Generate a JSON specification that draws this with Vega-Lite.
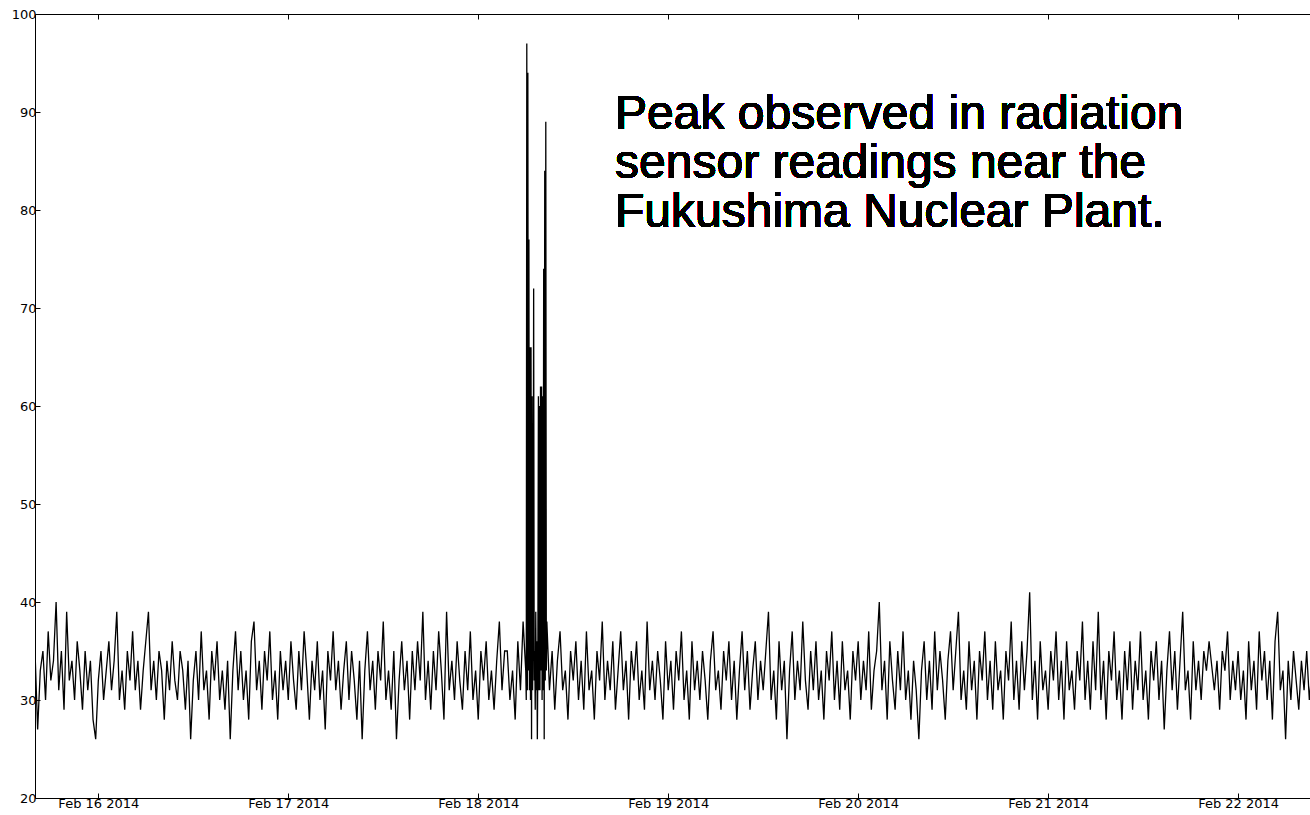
{
"$schema": "https://vega.github.io/schema/vega-lite/v6.json",
"width": 1275, "height": 784,
"autosize": {"type": "none"},
"padding": {"left": 35, "top": 14, "right": 0, "bottom": 17},
"background": "white",
"config": {"view": {"stroke": "black", "strokeWidth": 1}, "font": "DejaVu Sans",
 "axis": {"domain": false, "grid": false, "tickColor": "black", "tickSize": -5, "labelColor": "black", "labelFontSize": 13, "labelFont": "DejaVu Sans", "labelPadding": 4}},
"data": {"values": [
{"t":"2014-02-15T16:00","v":35},{"t":"2014-02-15T16:20","v":27},{"t":"2014-02-15T16:40","v":33},{"t":"2014-02-15T17:00","v":35},{"t":"2014-02-15T17:20","v":30},{"t":"2014-02-15T17:40","v":37},{"t":"2014-02-15T18:00","v":32},{"t":"2014-02-15T18:20","v":34},{"t":"2014-02-15T18:40","v":40},{"t":"2014-02-15T19:00","v":31},{"t":"2014-02-15T19:20","v":35},{"t":"2014-02-15T19:40","v":29},{"t":"2014-02-15T20:00","v":39},{"t":"2014-02-15T20:20","v":32},{"t":"2014-02-15T20:40","v":34},{"t":"2014-02-15T21:00","v":30},{"t":"2014-02-15T21:20","v":36},{"t":"2014-02-15T21:40","v":33},{"t":"2014-02-15T22:00","v":29},{"t":"2014-02-15T22:20","v":35},{"t":"2014-02-15T22:40","v":31},{"t":"2014-02-15T23:00","v":34},{"t":"2014-02-15T23:20","v":28},{"t":"2014-02-15T23:40","v":26},
{"t":"2014-02-16T00:00","v":32},{"t":"2014-02-16T00:20","v":35},{"t":"2014-02-16T00:40","v":30},{"t":"2014-02-16T01:00","v":33},{"t":"2014-02-16T01:20","v":36},{"t":"2014-02-16T01:40","v":31},{"t":"2014-02-16T02:00","v":34},{"t":"2014-02-16T02:20","v":39},{"t":"2014-02-16T02:40","v":30},{"t":"2014-02-16T03:00","v":33},{"t":"2014-02-16T03:20","v":29},{"t":"2014-02-16T03:40","v":35},
{"t":"2014-02-16T04:00","v":32},{"t":"2014-02-16T04:20","v":37},{"t":"2014-02-16T04:40","v":31},{"t":"2014-02-16T05:00","v":34},{"t":"2014-02-16T05:20","v":29},{"t":"2014-02-16T05:40","v":33},{"t":"2014-02-16T06:00","v":36},{"t":"2014-02-16T06:20","v":39},{"t":"2014-02-16T06:40","v":31},{"t":"2014-02-16T07:00","v":34},{"t":"2014-02-16T07:20","v":30},{"t":"2014-02-16T07:40","v":35},
{"t":"2014-02-16T08:00","v":33},{"t":"2014-02-16T08:20","v":28},{"t":"2014-02-16T08:40","v":34},{"t":"2014-02-16T09:00","v":31},{"t":"2014-02-16T09:20","v":36},{"t":"2014-02-16T09:40","v":32},{"t":"2014-02-16T10:00","v":30},{"t":"2014-02-16T10:20","v":35},{"t":"2014-02-16T10:40","v":33},{"t":"2014-02-16T11:00","v":29},{"t":"2014-02-16T11:20","v":34},{"t":"2014-02-16T11:40","v":26},
{"t":"2014-02-16T12:00","v":32},{"t":"2014-02-16T12:20","v":35},{"t":"2014-02-16T12:40","v":30},{"t":"2014-02-16T13:00","v":37},{"t":"2014-02-16T13:20","v":31},{"t":"2014-02-16T13:40","v":33},{"t":"2014-02-16T14:00","v":28},{"t":"2014-02-16T14:20","v":35},{"t":"2014-02-16T14:40","v":32},{"t":"2014-02-16T15:00","v":36},{"t":"2014-02-16T15:20","v":30},{"t":"2014-02-16T15:40","v":33},
{"t":"2014-02-16T16:00","v":29},{"t":"2014-02-16T16:20","v":34},{"t":"2014-02-16T16:40","v":26},{"t":"2014-02-16T17:00","v":33},{"t":"2014-02-16T17:20","v":37},{"t":"2014-02-16T17:40","v":31},{"t":"2014-02-16T18:00","v":35},{"t":"2014-02-16T18:20","v":30},{"t":"2014-02-16T18:40","v":33},{"t":"2014-02-16T19:00","v":28},{"t":"2014-02-16T19:20","v":36},{"t":"2014-02-16T19:40","v":38},
{"t":"2014-02-16T20:00","v":31},{"t":"2014-02-16T20:20","v":34},{"t":"2014-02-16T20:40","v":29},{"t":"2014-02-16T21:00","v":35},{"t":"2014-02-16T21:20","v":32},{"t":"2014-02-16T21:40","v":37},{"t":"2014-02-16T22:00","v":30},{"t":"2014-02-16T22:20","v":33},{"t":"2014-02-16T22:40","v":28},{"t":"2014-02-16T23:00","v":35},{"t":"2014-02-16T23:20","v":31},{"t":"2014-02-16T23:40","v":34},
{"t":"2014-02-17T00:00","v":30},{"t":"2014-02-17T00:20","v":36},{"t":"2014-02-17T00:40","v":32},{"t":"2014-02-17T01:00","v":29},{"t":"2014-02-17T01:20","v":35},{"t":"2014-02-17T01:40","v":31},{"t":"2014-02-17T02:00","v":37},{"t":"2014-02-17T02:20","v":33},{"t":"2014-02-17T02:40","v":28},{"t":"2014-02-17T03:00","v":34},{"t":"2014-02-17T03:20","v":31},{"t":"2014-02-17T03:40","v":36},
{"t":"2014-02-17T04:00","v":30},{"t":"2014-02-17T04:20","v":33},{"t":"2014-02-17T04:40","v":27},{"t":"2014-02-17T05:00","v":35},{"t":"2014-02-17T05:20","v":32},{"t":"2014-02-17T05:40","v":37},{"t":"2014-02-17T06:00","v":31},{"t":"2014-02-17T06:20","v":34},{"t":"2014-02-17T06:40","v":29},{"t":"2014-02-17T07:00","v":33},{"t":"2014-02-17T07:20","v":36},{"t":"2014-02-17T07:40","v":30},
{"t":"2014-02-17T08:00","v":35},{"t":"2014-02-17T08:20","v":32},{"t":"2014-02-17T08:40","v":28},{"t":"2014-02-17T09:00","v":34},{"t":"2014-02-17T09:20","v":26},{"t":"2014-02-17T09:40","v":33},{"t":"2014-02-17T10:00","v":37},{"t":"2014-02-17T10:20","v":31},{"t":"2014-02-17T10:40","v":34},{"t":"2014-02-17T11:00","v":29},{"t":"2014-02-17T11:20","v":35},{"t":"2014-02-17T11:40","v":32},
{"t":"2014-02-17T12:00","v":38},{"t":"2014-02-17T12:20","v":30},{"t":"2014-02-17T12:40","v":33},{"t":"2014-02-17T13:00","v":29},{"t":"2014-02-17T13:20","v":35},{"t":"2014-02-17T13:40","v":26},{"t":"2014-02-17T14:00","v":32},{"t":"2014-02-17T14:20","v":36},{"t":"2014-02-17T14:40","v":31},{"t":"2014-02-17T15:00","v":34},{"t":"2014-02-17T15:20","v":28},{"t":"2014-02-17T15:40","v":35},
{"t":"2014-02-17T16:00","v":31},{"t":"2014-02-17T16:20","v":36},{"t":"2014-02-17T16:40","v":32},{"t":"2014-02-17T17:00","v":39},{"t":"2014-02-17T17:20","v":30},{"t":"2014-02-17T17:40","v":34},{"t":"2014-02-17T18:00","v":29},{"t":"2014-02-17T18:20","v":35},{"t":"2014-02-17T18:40","v":31},{"t":"2014-02-17T19:00","v":37},{"t":"2014-02-17T19:20","v":33},{"t":"2014-02-17T19:40","v":28},
{"t":"2014-02-17T20:00","v":39},{"t":"2014-02-17T20:20","v":31},{"t":"2014-02-17T20:40","v":34},{"t":"2014-02-17T21:00","v":30},{"t":"2014-02-17T21:20","v":36},{"t":"2014-02-17T21:40","v":32},{"t":"2014-02-17T22:00","v":29},{"t":"2014-02-17T22:20","v":35},{"t":"2014-02-17T22:40","v":31},{"t":"2014-02-17T23:00","v":37},{"t":"2014-02-17T23:20","v":30},{"t":"2014-02-17T23:40","v":33},
{"t":"2014-02-18T00:00","v":28},{"t":"2014-02-18T00:20","v":35},{"t":"2014-02-18T00:40","v":32},{"t":"2014-02-18T01:00","v":36},{"t":"2014-02-18T01:20","v":30},{"t":"2014-02-18T01:40","v":33},{"t":"2014-02-18T02:00","v":29},{"t":"2014-02-18T02:20","v":34},{"t":"2014-02-18T02:40","v":38},{"t":"2014-02-18T03:00","v":31},{"t":"2014-02-18T03:20","v":35},{"t":"2014-02-18T03:40","v":35},
{"t":"2014-02-18T04:00","v":30},{"t":"2014-02-18T04:20","v":33},{"t":"2014-02-18T04:40","v":28},{"t":"2014-02-18T05:00","v":36},{"t":"2014-02-18T05:20","v":31},{"t":"2014-02-18T05:40","v":38},{"t":"2014-02-18T06:00","v":33},
{"t":"2014-02-18T06:04","v":30},{"t":"2014-02-18T06:08","v":97},{"t":"2014-02-18T06:12","v":31},{"t":"2014-02-18T06:16","v":94},{"t":"2014-02-18T06:20","v":33},{"t":"2014-02-18T06:24","v":77},{"t":"2014-02-18T06:28","v":31},{"t":"2014-02-18T06:32","v":66},{"t":"2014-02-18T06:36","v":30},{"t":"2014-02-18T06:40","v":66},{"t":"2014-02-18T06:44","v":26},{"t":"2014-02-18T06:48","v":61},{"t":"2014-02-18T06:52","v":31},
{"t":"2014-02-18T06:56","v":38},{"t":"2014-02-18T07:00","v":72},{"t":"2014-02-18T07:04","v":32},{"t":"2014-02-18T07:08","v":35},{"t":"2014-02-18T07:12","v":29},{"t":"2014-02-18T07:16","v":39},{"t":"2014-02-18T07:20","v":31},{"t":"2014-02-18T07:24","v":36},{"t":"2014-02-18T07:28","v":26},{"t":"2014-02-18T07:32","v":34},{"t":"2014-02-18T07:36","v":61},{"t":"2014-02-18T07:40","v":31},{"t":"2014-02-18T07:44","v":60},{"t":"2014-02-18T07:48","v":31},
{"t":"2014-02-18T07:52","v":62},{"t":"2014-02-18T07:56","v":33},{"t":"2014-02-18T08:00","v":62},{"t":"2014-02-18T08:04","v":30},{"t":"2014-02-18T08:08","v":61},{"t":"2014-02-18T08:12","v":31},{"t":"2014-02-18T08:16","v":74},{"t":"2014-02-18T08:20","v":26},{"t":"2014-02-18T08:24","v":84},{"t":"2014-02-18T08:28","v":32},{"t":"2014-02-18T08:32","v":89},{"t":"2014-02-18T08:36","v":33},{"t":"2014-02-18T08:40","v":38},
{"t":"2014-02-18T09:00","v":31},{"t":"2014-02-18T09:20","v":35},{"t":"2014-02-18T09:40","v":29},{"t":"2014-02-18T10:00","v":34},{"t":"2014-02-18T10:20","v":37},{"t":"2014-02-18T10:40","v":31},{"t":"2014-02-18T11:00","v":33},{"t":"2014-02-18T11:20","v":28},{"t":"2014-02-18T11:40","v":35},
{"t":"2014-02-18T12:00","v":32},{"t":"2014-02-18T12:20","v":36},{"t":"2014-02-18T12:40","v":30},{"t":"2014-02-18T13:00","v":34},{"t":"2014-02-18T13:20","v":29},{"t":"2014-02-18T13:40","v":37},{"t":"2014-02-18T14:00","v":31},{"t":"2014-02-18T14:20","v":33},{"t":"2014-02-18T14:40","v":28},{"t":"2014-02-18T15:00","v":35},{"t":"2014-02-18T15:20","v":32},{"t":"2014-02-18T15:40","v":38},
{"t":"2014-02-18T16:00","v":30},{"t":"2014-02-18T16:20","v":34},{"t":"2014-02-18T16:40","v":31},{"t":"2014-02-18T17:00","v":36},{"t":"2014-02-18T17:20","v":29},{"t":"2014-02-18T17:40","v":33},{"t":"2014-02-18T18:00","v":37},{"t":"2014-02-18T18:20","v":31},{"t":"2014-02-18T18:40","v":34},{"t":"2014-02-18T19:00","v":28},{"t":"2014-02-18T19:20","v":35},{"t":"2014-02-18T19:40","v":32},
{"t":"2014-02-18T20:00","v":36},{"t":"2014-02-18T20:20","v":30},{"t":"2014-02-18T20:40","v":33},{"t":"2014-02-18T21:00","v":29},{"t":"2014-02-18T21:20","v":38},{"t":"2014-02-18T21:40","v":31},{"t":"2014-02-18T22:00","v":34},{"t":"2014-02-18T22:20","v":30},{"t":"2014-02-18T22:40","v":35},{"t":"2014-02-18T23:00","v":32},{"t":"2014-02-18T23:20","v":28},{"t":"2014-02-18T23:40","v":36},
{"t":"2014-02-19T00:00","v":31},{"t":"2014-02-19T00:20","v":34},{"t":"2014-02-19T00:40","v":29},{"t":"2014-02-19T01:00","v":35},{"t":"2014-02-19T01:20","v":32},{"t":"2014-02-19T01:40","v":37},{"t":"2014-02-19T02:00","v":30},{"t":"2014-02-19T02:20","v":33},{"t":"2014-02-19T02:40","v":28},{"t":"2014-02-19T03:00","v":36},{"t":"2014-02-19T03:20","v":31},{"t":"2014-02-19T03:40","v":34},
{"t":"2014-02-19T04:00","v":30},{"t":"2014-02-19T04:20","v":35},{"t":"2014-02-19T04:40","v":32},{"t":"2014-02-19T05:00","v":28},{"t":"2014-02-19T05:20","v":34},{"t":"2014-02-19T05:40","v":37},{"t":"2014-02-19T06:00","v":31},{"t":"2014-02-19T06:20","v":33},{"t":"2014-02-19T06:40","v":29},{"t":"2014-02-19T07:00","v":35},{"t":"2014-02-19T07:20","v":32},{"t":"2014-02-19T07:40","v":36},
{"t":"2014-02-19T08:00","v":30},{"t":"2014-02-19T08:20","v":34},{"t":"2014-02-19T08:40","v":28},{"t":"2014-02-19T09:00","v":33},{"t":"2014-02-19T09:20","v":37},{"t":"2014-02-19T09:40","v":31},{"t":"2014-02-19T10:00","v":35},{"t":"2014-02-19T10:20","v":29},{"t":"2014-02-19T10:40","v":33},{"t":"2014-02-19T11:00","v":36},{"t":"2014-02-19T11:20","v":30},{"t":"2014-02-19T11:40","v":34},
{"t":"2014-02-19T12:00","v":31},{"t":"2014-02-19T12:20","v":35},{"t":"2014-02-19T12:40","v":39},{"t":"2014-02-19T13:00","v":30},{"t":"2014-02-19T13:20","v":33},{"t":"2014-02-19T13:40","v":28},{"t":"2014-02-19T14:00","v":36},{"t":"2014-02-19T14:20","v":31},{"t":"2014-02-19T14:40","v":34},{"t":"2014-02-19T15:00","v":26},{"t":"2014-02-19T15:20","v":33},{"t":"2014-02-19T15:40","v":37},
{"t":"2014-02-19T16:00","v":30},{"t":"2014-02-19T16:20","v":34},{"t":"2014-02-19T16:40","v":31},{"t":"2014-02-19T17:00","v":38},{"t":"2014-02-19T17:20","v":32},{"t":"2014-02-19T17:40","v":29},{"t":"2014-02-19T18:00","v":35},{"t":"2014-02-19T18:20","v":31},{"t":"2014-02-19T18:40","v":36},{"t":"2014-02-19T19:00","v":30},{"t":"2014-02-19T19:20","v":33},{"t":"2014-02-19T19:40","v":28},
{"t":"2014-02-19T20:00","v":35},{"t":"2014-02-19T20:20","v":32},{"t":"2014-02-19T20:40","v":37},{"t":"2014-02-19T21:00","v":30},{"t":"2014-02-19T21:20","v":34},{"t":"2014-02-19T21:40","v":29},{"t":"2014-02-19T22:00","v":36},{"t":"2014-02-19T22:20","v":31},{"t":"2014-02-19T22:40","v":33},{"t":"2014-02-19T23:00","v":28},{"t":"2014-02-19T23:20","v":35},{"t":"2014-02-19T23:40","v":32},
{"t":"2014-02-20T00:00","v":36},{"t":"2014-02-20T00:20","v":30},{"t":"2014-02-20T00:40","v":34},{"t":"2014-02-20T01:00","v":31},{"t":"2014-02-20T01:20","v":37},{"t":"2014-02-20T01:40","v":29},{"t":"2014-02-20T02:00","v":33},{"t":"2014-02-20T02:20","v":35},{"t":"2014-02-20T02:40","v":40},{"t":"2014-02-20T03:00","v":31},{"t":"2014-02-20T03:20","v":34},{"t":"2014-02-20T03:40","v":28},
{"t":"2014-02-20T04:00","v":36},{"t":"2014-02-20T04:20","v":32},{"t":"2014-02-20T04:40","v":29},{"t":"2014-02-20T05:00","v":35},{"t":"2014-02-20T05:20","v":31},{"t":"2014-02-20T05:40","v":37},{"t":"2014-02-20T06:00","v":30},{"t":"2014-02-20T06:20","v":33},{"t":"2014-02-20T06:40","v":28},{"t":"2014-02-20T07:00","v":34},{"t":"2014-02-20T07:20","v":31},{"t":"2014-02-20T07:40","v":26},
{"t":"2014-02-20T08:00","v":33},{"t":"2014-02-20T08:20","v":36},{"t":"2014-02-20T08:40","v":30},{"t":"2014-02-20T09:00","v":34},{"t":"2014-02-20T09:20","v":29},{"t":"2014-02-20T09:40","v":37},{"t":"2014-02-20T10:00","v":31},{"t":"2014-02-20T10:20","v":35},{"t":"2014-02-20T10:40","v":32},{"t":"2014-02-20T11:00","v":28},{"t":"2014-02-20T11:20","v":34},{"t":"2014-02-20T11:40","v":37},
{"t":"2014-02-20T12:00","v":31},{"t":"2014-02-20T12:20","v":35},{"t":"2014-02-20T12:40","v":39},{"t":"2014-02-20T13:00","v":30},{"t":"2014-02-20T13:20","v":33},{"t":"2014-02-20T13:40","v":29},{"t":"2014-02-20T14:00","v":36},{"t":"2014-02-20T14:20","v":31},{"t":"2014-02-20T14:40","v":34},{"t":"2014-02-20T15:00","v":28},{"t":"2014-02-20T15:20","v":35},{"t":"2014-02-20T15:40","v":32},
{"t":"2014-02-20T16:00","v":37},{"t":"2014-02-20T16:20","v":30},{"t":"2014-02-20T16:40","v":34},{"t":"2014-02-20T17:00","v":29},{"t":"2014-02-20T17:20","v":36},{"t":"2014-02-20T17:40","v":31},{"t":"2014-02-20T18:00","v":33},{"t":"2014-02-20T18:20","v":28},{"t":"2014-02-20T18:40","v":35},{"t":"2014-02-20T19:00","v":32},{"t":"2014-02-20T19:20","v":38},{"t":"2014-02-20T19:40","v":30},
{"t":"2014-02-20T20:00","v":34},{"t":"2014-02-20T20:20","v":29},{"t":"2014-02-20T20:40","v":36},{"t":"2014-02-20T21:00","v":31},{"t":"2014-02-20T21:20","v":35},{"t":"2014-02-20T21:40","v":41},{"t":"2014-02-20T22:00","v":30},{"t":"2014-02-20T22:20","v":34},{"t":"2014-02-20T22:40","v":28},{"t":"2014-02-20T23:00","v":36},{"t":"2014-02-20T23:20","v":31},{"t":"2014-02-20T23:40","v":33},
{"t":"2014-02-21T00:00","v":29},{"t":"2014-02-21T00:20","v":35},{"t":"2014-02-21T00:40","v":32},{"t":"2014-02-21T01:00","v":37},{"t":"2014-02-21T01:20","v":30},{"t":"2014-02-21T01:40","v":34},{"t":"2014-02-21T02:00","v":28},{"t":"2014-02-21T02:20","v":36},{"t":"2014-02-21T02:40","v":31},{"t":"2014-02-21T03:00","v":33},{"t":"2014-02-21T03:20","v":29},{"t":"2014-02-21T03:40","v":35},
{"t":"2014-02-21T04:00","v":32},{"t":"2014-02-21T04:20","v":38},{"t":"2014-02-21T04:40","v":30},{"t":"2014-02-21T05:00","v":34},{"t":"2014-02-21T05:20","v":29},{"t":"2014-02-21T05:40","v":36},{"t":"2014-02-21T06:00","v":31},{"t":"2014-02-21T06:20","v":39},{"t":"2014-02-21T06:40","v":30},{"t":"2014-02-21T07:00","v":34},{"t":"2014-02-21T07:20","v":28},{"t":"2014-02-21T07:40","v":35},
{"t":"2014-02-21T08:00","v":32},{"t":"2014-02-21T08:20","v":37},{"t":"2014-02-21T08:40","v":30},{"t":"2014-02-21T09:00","v":33},{"t":"2014-02-21T09:20","v":28},{"t":"2014-02-21T09:40","v":35},{"t":"2014-02-21T10:00","v":31},{"t":"2014-02-21T10:20","v":36},{"t":"2014-02-21T10:40","v":29},{"t":"2014-02-21T11:00","v":34},{"t":"2014-02-21T11:20","v":31},{"t":"2014-02-21T11:40","v":37},
{"t":"2014-02-21T12:00","v":30},{"t":"2014-02-21T12:20","v":33},{"t":"2014-02-21T12:40","v":28},{"t":"2014-02-21T13:00","v":35},{"t":"2014-02-21T13:20","v":32},{"t":"2014-02-21T13:40","v":36},{"t":"2014-02-21T14:00","v":30},{"t":"2014-02-21T14:20","v":34},{"t":"2014-02-21T14:40","v":27},{"t":"2014-02-21T15:00","v":33},{"t":"2014-02-21T15:20","v":37},{"t":"2014-02-21T15:40","v":31},
{"t":"2014-02-21T16:00","v":35},{"t":"2014-02-21T16:20","v":29},{"t":"2014-02-21T16:40","v":34},{"t":"2014-02-21T17:00","v":39},{"t":"2014-02-21T17:20","v":31},{"t":"2014-02-21T17:40","v":33},{"t":"2014-02-21T18:00","v":28},{"t":"2014-02-21T18:20","v":36},{"t":"2014-02-21T18:40","v":31},{"t":"2014-02-21T19:00","v":34},{"t":"2014-02-21T19:20","v":30},{"t":"2014-02-21T19:40","v":35},
{"t":"2014-02-21T20:00","v":33},{"t":"2014-02-21T20:20","v":36},{"t":"2014-02-21T21:00","v":31},{"t":"2014-02-21T21:20","v":34},{"t":"2014-02-21T21:40","v":29},{"t":"2014-02-21T22:00","v":35},{"t":"2014-02-21T22:20","v":33},{"t":"2014-02-21T22:40","v":37},{"t":"2014-02-21T23:00","v":30},{"t":"2014-02-21T23:20","v":34},{"t":"2014-02-21T23:40","v":31},
{"t":"2014-02-22T00:00","v":35},{"t":"2014-02-22T00:20","v":30},{"t":"2014-02-22T00:40","v":33},{"t":"2014-02-22T01:00","v":28},{"t":"2014-02-22T01:20","v":36},{"t":"2014-02-22T01:40","v":31},{"t":"2014-02-22T02:00","v":34},{"t":"2014-02-22T02:20","v":29},{"t":"2014-02-22T02:40","v":37},{"t":"2014-02-22T03:00","v":32},{"t":"2014-02-22T03:20","v":35},{"t":"2014-02-22T03:40","v":30},
{"t":"2014-02-22T04:00","v":34},{"t":"2014-02-22T04:20","v":28},{"t":"2014-02-22T04:40","v":36},{"t":"2014-02-22T05:00","v":39},{"t":"2014-02-22T05:20","v":31},{"t":"2014-02-22T05:40","v":33},{"t":"2014-02-22T06:00","v":26},{"t":"2014-02-22T06:20","v":34},{"t":"2014-02-22T06:40","v":30},{"t":"2014-02-22T07:00","v":35},{"t":"2014-02-22T07:20","v":32},{"t":"2014-02-22T07:40","v":29},
{"t":"2014-02-22T08:00","v":34},{"t":"2014-02-22T08:20","v":31},{"t":"2014-02-22T08:40","v":35},{"t":"2014-02-22T09:00","v":30},{"t":"2014-02-22T09:20","v":33}
]},
"resolve": {"axis": {"x": "independent", "y": "independent"}},
"layer": [
 {"mark": {"type": "line", "color": "black", "strokeWidth": 1.3, "clip": true},
  "encoding": {
   "x": {"field": "t", "type": "temporal",
     "scale": {"domain": [{"year": 2014, "month": 2, "date": 15, "hours": 16, "minutes": 0}, {"year": 2014, "month": 2, "date": 22, "hours": 9, "minutes": 5}], "nice": false},
     "axis": {"orient": "bottom", "title": null, "format": "%b %d %Y", "tickCount": {"interval": "day", "step": 1}, "labelPadding": 4, "labelFlush": false, "labelOverlap": false}},
   "y": {"field": "v", "type": "quantitative", "scale": {"domain": [20, 100], "nice": false, "zero": false},
     "axis": {"orient": "left", "title": null, "values": [20, 30, 40, 50, 60, 70, 80, 90, 100], "labelPadding": 4, "labelFlush": false}}
  }},
 {"mark": {"type": "line", "strokeOpacity": 0},
  "encoding": {
   "x": {"field": "t", "type": "temporal", "axis": {"orient": "top", "title": null, "labels": false, "tickCount": {"interval": "day", "step": 1}}},
   "y": {"field": "v", "type": "quantitative", "axis": null}
  }},
 {"mark": {"type": "text", "align": "left", "baseline": "alphabetic", "font": "Liberation Sans", "fontSize": 48, "lineHeight": 49, "color": "black",
   "text": ["Peak observed in radiation", "sensor readings near the", "Fukushima Nuclear Plant."]},
  "encoding": {
   "x": {"datum": {"year": 2014, "month": 2, "date": 18, "hours": 17, "minutes": 17}, "type": "temporal", "axis": null},
   "y": {"datum": 88.27, "type": "quantitative", "axis": null}
  }}
]
}
